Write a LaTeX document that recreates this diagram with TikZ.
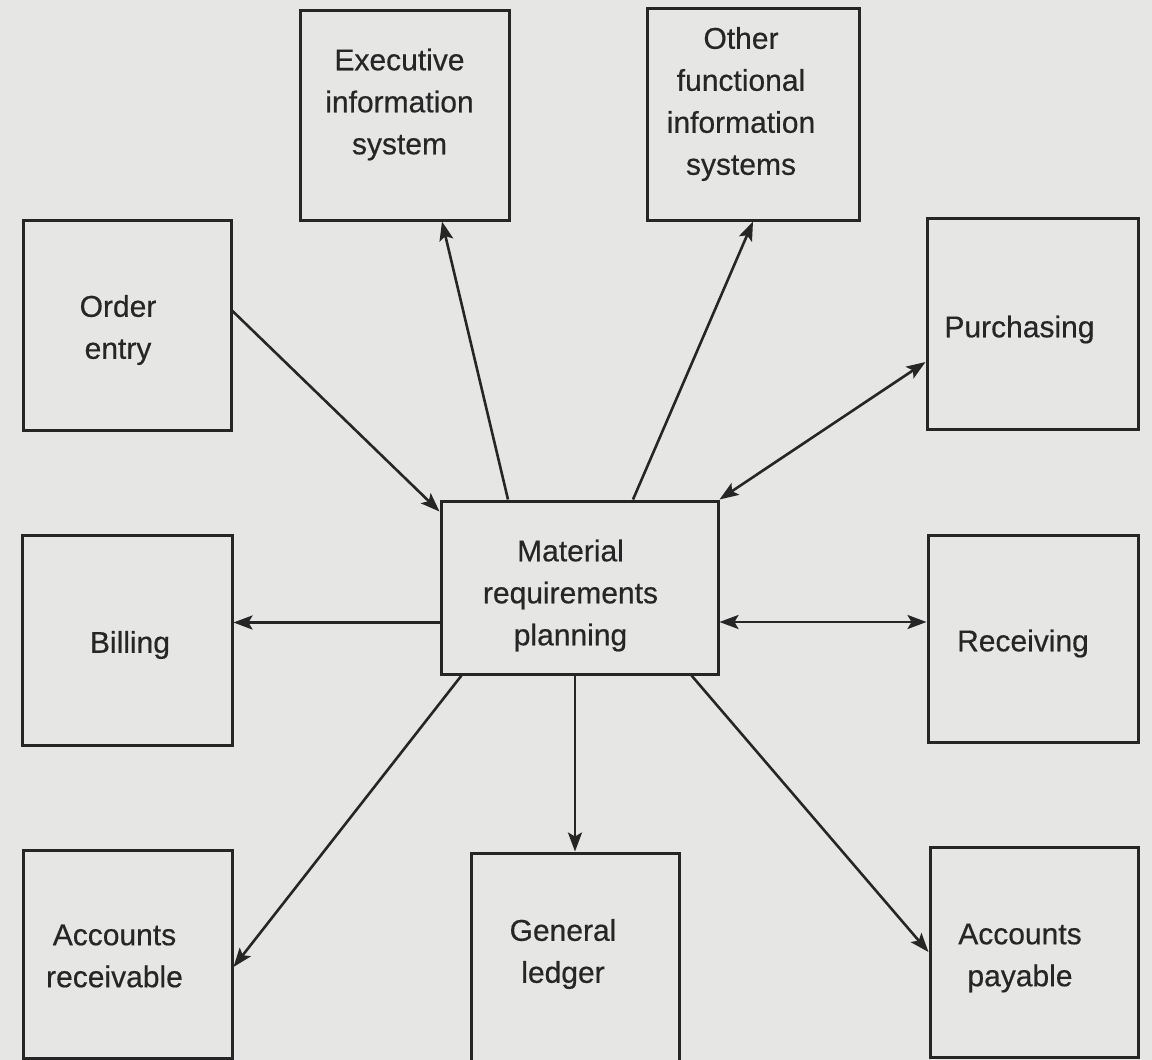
\documentclass[tikz,border=0pt]{standalone}
\usepackage{fontspec}
\setmainfont{Liberation Sans}
\newfontfamily\boxfont[FakeBold=0.5]{Liberation Sans}
\usetikzlibrary{arrows.meta,calc}
\definecolor{paper}{RGB}{230,230,229}
\definecolor{ink}{RGB}{38,38,38}
\begin{document}
\begin{tikzpicture}[x=1pt,y=-1pt,
  sysbox/.style={draw=ink,line width=3pt,inner sep=0pt},
  boxtext/.style={inner sep=0pt,align=center,text=ink,
    font=\boxfont\fontsize{30}{42}\selectfont},
  tip/.tip={Stealth[length=19pt,width=14pt,inset=4pt]},
  link/.style={draw=ink,line width=2.6pt,-tip},
  twoway/.style={draw=ink,line width=2.6pt,tip-tip}]
  % paper background
  \fill[paper] (0,0) rectangle (1152,1060);
  \useasboundingbox (0,0) rectangle (1152,1060);

  % subsystem boxes
  \node[sysbox,minimum width=209pt,minimum height=210pt] (exec) at (404.5,115) {};
  \node[sysbox,minimum width=212pt,minimum height=212pt] (other) at (753,114) {};
  \node[sysbox,minimum width=208pt,minimum height=210pt] (order) at (127,325) {};
  \node[sysbox,minimum width=211pt,minimum height=211pt] (purch) at (1032.5,323.5) {};
  \node[sysbox,minimum width=277pt,minimum height=173pt] (mrp) at (579.5,587.5) {};
  \node[sysbox,minimum width=210pt,minimum height=210pt] (bill) at (127,640) {};
  \node[sysbox,minimum width=210pt,minimum height=207pt] (recv) at (1033,638.5) {};
  \node[sysbox,minimum width=209pt,minimum height=208pt] (ar) at (127.5,954) {};
  \node[sysbox,minimum width=208pt,minimum height=210pt] (gl) at (575,958) {};
  \node[sysbox,minimum width=208pt,minimum height=210pt] (ap) at (1034,952) {};

  % box captions
  \node[boxtext] (exec-t)  at ([shift={(-5pt,10.5pt)}]exec.center) {Executive\\information\\system};
  \node[boxtext] (other-t) at ([shift={(-12pt,10pt)}]other.center) {Other\\functional\\information\\systems};
  \node[boxtext] (order-t) at ([shift={(-9pt,-5pt)}]order.center) {Order\\entry};
  \node[boxtext] (purch-t) at ([shift={(-13pt,-6pt)}]purch.center) {Purchasing};
  \node[boxtext] (mrp-t)   at ([shift={(-9pt,-8pt)}]mrp.center) {Material\\requirements\\planning};
  \node[boxtext] (bill-t)  at ([shift={(3pt,-5pt)}]bill.center) {Billing};
  \node[boxtext] (recv-t)  at ([shift={(-10pt,-5pt)}]recv.center) {Receiving};
  \node[boxtext] (ar-t)    at ([shift={(-13pt,-2pt)}]ar.center) {Accounts\\receivable};
  \node[boxtext] (gl-t)    at ([shift={(-12pt,4pt)}]gl.center) {General\\ledger};
  \node[boxtext] (ap-t)    at ([shift={(-14pt,-6pt)}]ap.center) {Accounts\\payable};

  % data flows
  \draw[link] ([yshift=14pt]order.east) -- ([yshift=-12pt]mrp.north west);
  \draw[link] ([xshift=-71.5pt]mrp.north) -- ([xshift=37.5pt]exec.south);
  \draw[link] ([xshift=53.5pt]mrp.north) -- (other.south);
  \draw[twoway] (mrp.north east) -- ([yshift=-38.5pt]purch.west);
  \coordinate (bl) at ([yshift=-35pt]mrp.west);
  \draw[link] (bl) -- (bl -| bill.east);
  \coordinate (rl) at ([yshift=-34.5pt]mrp.east);
  \draw[twoway] (rl) -- (rl -| recv.west);
  \draw[link] ([xshift=22pt]mrp.south west) -- ([yshift=-13pt]ar.east);
  \draw[link] (mrp.south -| gl.north) -- (gl.north);
  \draw[link] ([xshift=-28pt]mrp.south east) -- (ap.west);
\end{tikzpicture}
\end{document}
